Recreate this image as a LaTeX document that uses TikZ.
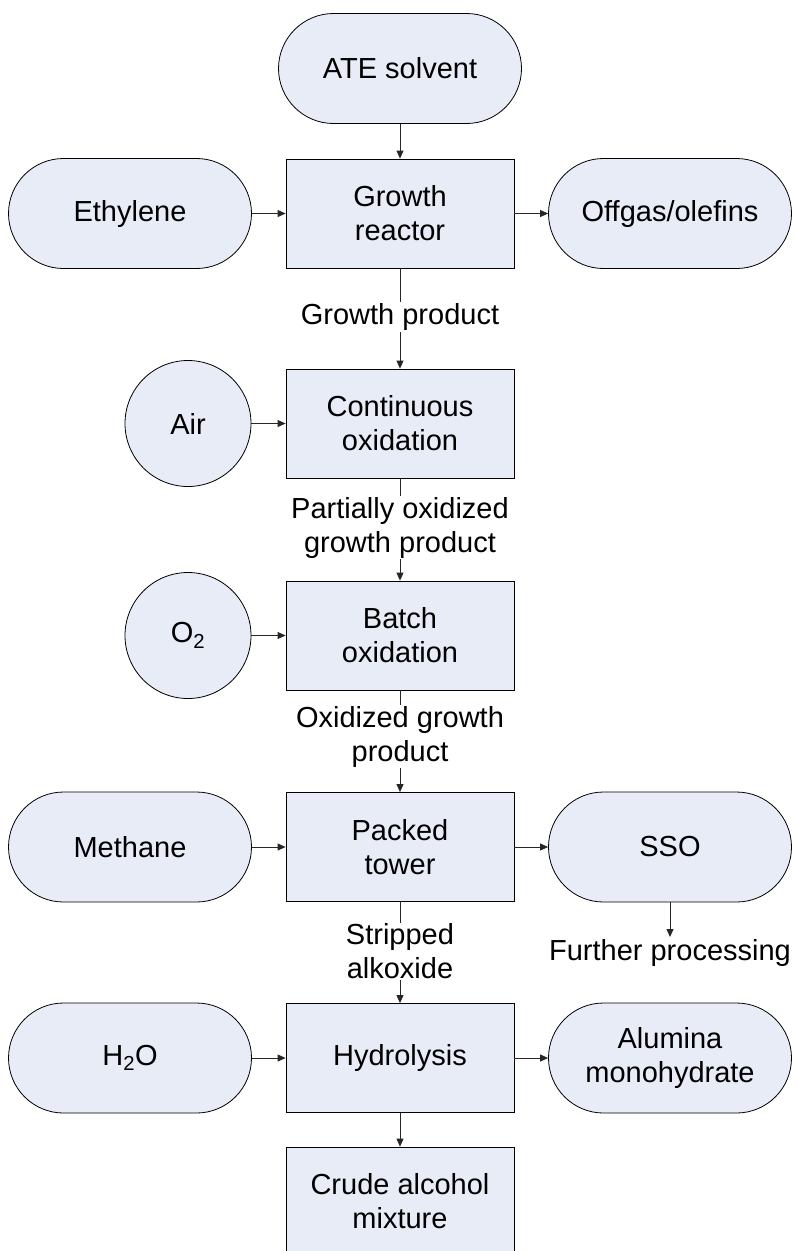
\documentclass[tikz,border=0pt]{standalone}
\usepackage{fontspec}
\setmainfont{Liberation Sans}
\usetikzlibrary{arrows.meta}
\definecolor{fillblue}{RGB}{231,236,247}
\begin{document}
\begin{tikzpicture}[x=1pt,y=-1pt,
  every node/.style={font=\fontsize{29}{34}\selectfont},
  stadium/.style={draw, fill=fillblue, line width=0.8pt, rounded corners=55pt, minimum width=243pt, minimum height=110pt, inner sep=0pt, align=center},
  procbox/.style={draw, fill=fillblue, line width=0.8pt, minimum width=228pt, minimum height=109pt, align=center, inner sep=0pt},
  src/.style={draw, fill=fillblue, line width=0.8pt, circle, minimum size=126pt, inner sep=0pt},
  lbl/.style={fill=white, align=center, inner sep=1pt},
  arr/.style={-{Triangle[length=8pt,width=7pt]}, line width=0.8pt, black!85}]
\useasboundingbox (0,0) rectangle (796,1251);
\clip (0,0) rectangle (796,1251);
% nodes
\node[stadium] (ate) at (400,68.5) {ATE solvent};
\node[procbox] (grow) at (400,213.5) {Growth\\reactor};
\node[stadium] (eth) at (130,213.5) {Ethylene};
\node[stadium] (off) at (670,213.5) {Offgas/olefins};
\node[procbox] (cont) at (400,423.5) {Continuous\\oxidation};
\node[src] (air) at (188,423.5) {Air};
\node[procbox] (batch) at (400,635.5) {Batch\\oxidation};
\node[src] (o2) at (188,635.5) {O\textsubscript{2}};
\node[procbox] (packed) at (400,847) {Packed\\tower};
\node[stadium] (meth) at (130,847) {Methane};
\node[stadium] (sso) at (670,847) {SSO};
\node[anchor=north, inner sep=2pt] (fp) at (670,937) {Further processing};
\node[procbox] (hyd) at (400,1058) {Hydrolysis};
\node[stadium] (h2o) at (130,1058) {H\textsubscript{2}O};
\node[stadium] (alu) at (670,1058) {Alumina\\monohydrate};
\node[procbox] (crude) at (400,1201.5) {Crude alcohol\\mixture};
% connectors
\draw[arr] (ate) -- (grow);
\draw[arr] (eth) -- (grow);
\draw[arr] (grow) -- (off);
\draw[arr] (grow) -- (cont);
\draw[arr] (air) -- (cont);
\draw[arr] (cont) -- (batch);
\draw[arr] (o2) -- (batch);
\draw[arr] (batch) -- (packed);
\draw[arr] (meth) -- (packed);
\draw[arr] (packed) -- (sso);
\draw[arr] (sso) -- (fp);
\draw[arr] (packed) -- (hyd);
\draw[arr] (h2o) -- (hyd);
\draw[arr] (hyd) -- (alu);
\draw[arr] (hyd) -- (crude);
% connector labels
\node[lbl] (gp) at (400,317) {Growth product};
\node[lbl] (pog) at (400,527.5) {Partially oxidized\\growth product};
\node[lbl] (ogp) at (400,736.5) {Oxidized growth\\product};
\node[lbl] (sa) at (400,951.5) {Stripped\\alkoxide};
\end{tikzpicture}
\end{document}
